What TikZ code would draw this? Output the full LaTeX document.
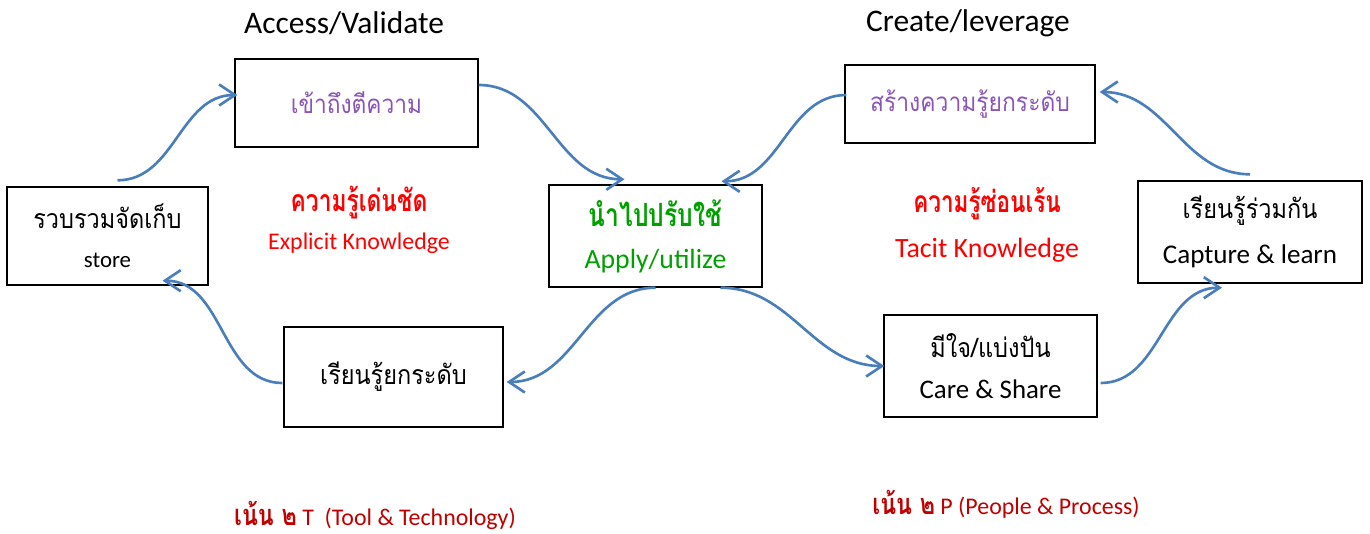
\documentclass[tikz,border=0pt]{standalone}
\usepackage{graphicx}
\usepackage{fontspec}
\setmainfont{Carlito}
\newfontfamily\thai[Script=Thai]{Loma}
\usetikzlibrary{arrows.meta,calc}
\definecolor{flowColor}{HTML}{4A7EBB}
\definecolor{purpColor}{HTML}{8B55B7}
\definecolor{applyColor}{HTML}{00A000}
\definecolor{keyColor}{HTML}{FF0000}
\definecolor{noteColor}{HTML}{C00000}
\tikzset{
	box/.style={draw=black, line width=0.8pt, align=center, inner sep=0pt},
	lab/.style={align=center, inner sep=0pt},
	flow/.style={draw=flowColor, line width=1.5pt},
}
\newcommand{\sz}[1]{\fontsize{#1}{#1}\selectfont}
\newcommand{\thw}[3][0.88]{\scalebox{#1}[1]{\thai\fontsize{#2}{#2}\selectfont #3}}

\begin{document}
\begin{tikzpicture}[x=0.02cm, y=0.02cm, ->, >={Straight Barb[length=9pt,width=12pt]}]
	\useasboundingbox (0,0) rectangle (1370,-534);
	% titles
	\node[lab] (tAccess) at (344,-23) {\sz{17.9}Access/Validate};
	\node[lab] (tCreate) at (968,-23) {\sz{17.9}Create/leverage};
	% left loop
	\node[box, text=purpColor, minimum width=4.86cm, minimum height=1.76cm] (access) at (356.5,-103) {\thw{14.7}{เข้าถึงตีความ}};
	\node[box, minimum width=4.02cm, minimum height=1.96cm] (store) at (107.5,-236) {\thw{15.2}{รวบรวมจัดเก็บ}\\[10pt] \sz{13}store};
	\node[box, text=applyColor, minimum width=4.26cm, minimum height=2.04cm] (apply) at (655.5,-236) {\thw[0.77]{18.2}{\bfseries นำไปปรับใช้}\\[12pt] \sz{15.8}Apply/utilize};
	\node[box, minimum width=4.38cm, minimum height=2.0cm] (learn) at (393.5,-377) {\thw{15.2}{เรียนรู้ยกระดับ}};
	\node[lab, text=keyColor] (explicit) at (359,-220) {\thw[0.75]{17.3}{\bfseries ความรู้เด่นชัด}\\[7pt] \sz{13.6}Explicit Knowledge};
	% right loop
	\node[box, text=purpColor, minimum width=5.0cm, minimum height=1.56cm] (create) at (970,-104) {\thw{14.8}{สร้างความรู้ยกระดับ}};
	\node[box, minimum width=4.48cm, minimum height=2.04cm] (capture) at (1250,-232) {\thw{15.2}{เรียนรู้ร่วมกัน}\\[10pt] \sz{15.4}Capture \& learn};
	\node[box, minimum width=4.26cm, minimum height=2.04cm] (care) at (990.5,-366) {\thw{15.2}{มีใจ/แบ่งปัน}\\[11pt] \sz{15.3}Care \& Share};
	\node[lab, text=keyColor] (tacit) at (987,-225) {\thw[0.75]{17.1}{\bfseries ความรู้ซ่อนเร้น}\\[9pt] \sz{15.9}Tacit Knowledge};
	% notes
	\node[lab, text=noteColor] (noteT) at (375,-515) {\sz{13.6}\thw[0.8]{16.5}{\bfseries เน้น ๒} T~ (Tool \& Technology)};
	\node[lab, text=noteColor] (noteP) at (1006,-504) {\sz{13.6}\thw[0.8]{16.5}{\bfseries เน้น ๒} P (People \& Process)};
	% flows
	\path ($(store.north)+(10,6)$) edge[flow, out=0, in=180] ($(access.west)+(3,8)$);
	\path ($(access.east)+(0,18)$) edge[flow, out=0, in=180] ($(apply.north)+(-31,5)$);
	\path (apply.south) edge[flow, out=180, in=0] ($(learn.east)+(3,-5)$);
	\path ($(learn.west)+(-1,-6)$) edge[flow, out=180, in=0] ($(store.south)+(55,5)$);
	\path ($(apply.south)+(65,0)$) edge[flow, out=0, in=180] ($(care.west)+(1,0)$);
	\path ($(care.east)+(3,-17)$) edge[flow, out=0, in=180] ($(capture.south)+(-28,-4)$);
	\path ($(capture.north)+(0,6)$) edge[flow, out=180, in=0] ($(create.east)+(4,12)$);
	\path ($(create.west)+(2,9)$) edge[flow, out=180, in=0] ($(apply.north)+(66,3)$);
\end{tikzpicture}
\end{document}
